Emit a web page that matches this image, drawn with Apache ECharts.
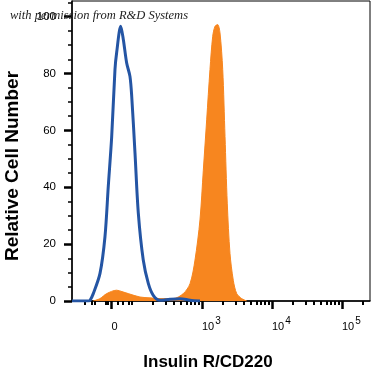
<!DOCTYPE html>
<html>
<head>
<meta charset="utf-8">
<script src="https://cdn.jsdelivr.net/npm/echarts@6/dist/echarts.min.js"></script>
<style>html,body{margin:0;padding:0;background:#fff}#c{width:372px;height:373px}</style>
</head>
<body>
<div id="c"></div>
<script>
// x values are in display (biexponential) units: 10^3 -> 3, 10^4 -> 4, 10^5 -> 5, 0 -> 1.707
const isotypeX = [1.143,1.371,1.400,1.447,1.543,1.614,1.661,1.710,1.757,1.781,1.839,1.876,1.924,1.971,1.996,2.043,2.090,2.161,2.233,2.304,2.400,2.543,2.686,2.829,2.971];
const isotypeY = [0,0,0.25,2.6,9.7,22.6,40.2,57.8,81.4,87.4,96.6,92,83.7,79,72,52,31,14.4,6.2,2,0.25,0.6,0.8,0.3,0];
const stainedX = [1.447,1.543,1.639,1.781,1.857,1.947,2.114,2.257,2.400,2.590,2.733,2.829,2.900,2.971,3.019,3.067,3.114,3.153,3.186,3.224,3.257,3.296,3.329,3.361,3.400,3.447,3.496,3.567,3.639];
const stainedY = [0,0.85,2.6,3.8,3.3,2.6,1.4,1.1,0.85,0.85,2.6,6.1,14.4,28.5,46,63.7,81.4,93.1,96.6,97.2,94.3,81.4,57.8,34.4,16.7,7.3,2.6,0.85,0];
const xTickPos = [1.707, 3, 4, 5];
const xTickLabels = ['{b|0}', '{b|10}{s|3}', '{b|10}{s|4}', '{b|10}{s|5}'];
const xMinorPos = [1.33,1.43,1.47,1.63,1.66,1.80,1.87,1.96,2.0,
  2.301,2.477,2.602,2.699,2.778,2.845,2.903,2.954,
  3.301,3.477,3.602,3.699,3.778,3.845,3.903,3.954,
  4.301,4.477,4.602,4.699,4.778,4.845,4.903,4.954,5.301];
const yTicks = [0,20,40,60,80,100];
const yMinor = [5,10,15,25,30,35,45,50,55,65,70,75,85,90,95,105];
const xTitle = 'Insulin R/CD220';
const yTitle = 'Relative Cell Number';
const watermark = 'with permission from R&D Systems';

const zip = (a,b) => a.map((v,i)=>[v,b[i]]);
const chart = echarts.init(document.getElementById('c'), null, {renderer:'canvas'});
const font = 'Liberation Sans';
chart.setOption({
  animation:false,
  grid:{left:72,right:2,top:1,bottom:72,show:true,borderColor:'#000',borderWidth:1,containLabel:false,outerBoundsMode:'none'},
  xAxis:[{
    type:'value',min:1.143,max:5.4,
    axisLine:{lineStyle:{color:'#000',width:1.5}},
    splitLine:{show:false},
    axisTick:{customValues:xTickPos,length:8,lineStyle:{color:'#000',width:2.5}},
    axisLabel:{customValues:xTickPos,align:'left',margin:15,color:'#000',
      formatter:(v)=>{let best=0;xTickPos.forEach((p,i)=>{if(Math.abs(p-v)<Math.abs(xTickPos[best]-v))best=i;});return xTickLabels[best];},
      rich:{b:{fontSize:11,fontFamily:font,lineHeight:16,verticalAlign:'bottom',color:'#000'},
            s:{fontSize:10,fontFamily:font,lineHeight:16,verticalAlign:'top',color:'#000',padding:[0,0,0,1]}}},
    name:xTitle,nameLocation:'middle',nameGap:53,
    nameTextStyle:{fontSize:17,fontWeight:'bold',fontFamily:font,color:'#000',padding:[0,26,0,0]}
  },{
    type:'value',min:1.143,max:5.4,position:'bottom',offset:0,
    axisLine:{show:false},splitLine:{show:false},axisLabel:{show:false},
    axisTick:{customValues:xMinorPos,length:4,lineStyle:{color:'#000',width:2}}
  }],
  yAxis:[{
    type:'value',min:0,max:105.5,position:'left',offset:0,
    axisLine:{show:true,lineStyle:{color:'#000',width:1.5}},
    splitLine:{show:false},
    axisTick:{customValues:yTicks,length:8,lineStyle:{color:'#000',width:2.5}},
    axisLabel:{customValues:yTicks,margin:16,fontSize:11.5,fontFamily:font,color:'#000'},
    name:yTitle,nameLocation:'middle',nameGap:50,
    nameTextStyle:{fontSize:19,fontWeight:'bold',fontFamily:font,color:'#000',padding:[0,30,0,0]}
  },{
    type:'value',min:0,max:105.5,position:'left',offset:0,
    axisLine:{show:false},splitLine:{show:false},axisLabel:{show:false},
    axisTick:{customValues:yMinor,length:4,lineStyle:{color:'#000',width:1.5}}
  }],
  series:[{
    type:'line',data:zip(stainedX,stainedY),smooth:0.3,showSymbol:false,z:2,
    lineStyle:{color:'#f7861f',width:1},areaStyle:{color:'#f7861f',opacity:1}
  },{
    type:'line',data:zip(isotypeX,isotypeY),smooth:0.3,showSymbol:false,z:3,
    lineStyle:{color:'#2455a4',width:3}
  }],
  graphic:[{type:'text',left:10,top:9,z:100,
    style:{text:watermark,font:'italic 12.5px "Liberation Serif"',fill:'#222'}}]
});
</script>
</body>
</html>
